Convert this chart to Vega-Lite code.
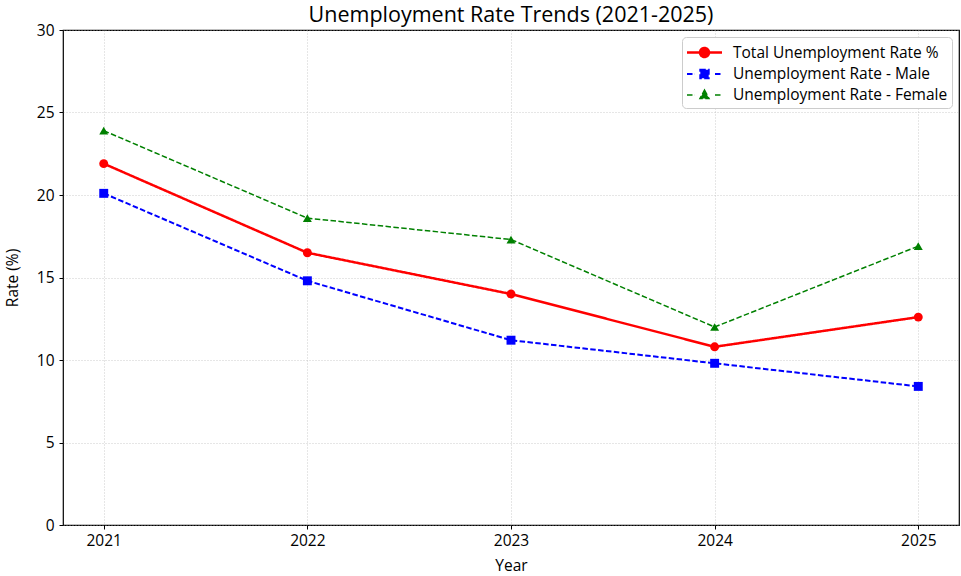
{
  "$schema": "https://vega.github.io/schema/vega-lite/v6.json",
  "width": 896,
  "height": 495,
  "autosize": {"type": "none"},
  "padding": {"left": 63, "top": 30, "right": 2, "bottom": 51},
  "background": "white",
  "title": {"text": "Unemployment Rate Trends (2021-2025)", "fontSize": 21.5, "fontWeight": "normal", "font": "Open Sans", "color": "#000000", "offset": -3, "anchor": "middle"},
  "config": {
    "view": {"stroke": "#000000", "strokeWidth": 1.2},
    "font": "Open Sans",
    "axis": {"labelFont": "Open Sans", "titleFont": "Open Sans", "labelColor": "#000000", "titleColor": "#000000", "titleFontWeight": "normal", "domain": false, "tickColor": "#000000", "tickSize": 4, "labelFontSize": 15.5, "titleFontSize": 15.5, "grid": true, "gridColor": "#b0b0b0", "gridDash": [1, 2], "gridWidth": 0.8, "gridOpacity": 0.8}
  },
  "data": {"values": [
    {"year": 2021, "series": "Total Unemployment Rate %", "rate": 21.9},
    {"year": 2022, "series": "Total Unemployment Rate %", "rate": 16.5},
    {"year": 2023, "series": "Total Unemployment Rate %", "rate": 14.0},
    {"year": 2024, "series": "Total Unemployment Rate %", "rate": 10.8},
    {"year": 2025, "series": "Total Unemployment Rate %", "rate": 12.6},
    {"year": 2021, "series": "Unemployment Rate - Male", "rate": 20.1},
    {"year": 2022, "series": "Unemployment Rate - Male", "rate": 14.8},
    {"year": 2023, "series": "Unemployment Rate - Male", "rate": 11.2},
    {"year": 2024, "series": "Unemployment Rate - Male", "rate": 9.8},
    {"year": 2025, "series": "Unemployment Rate - Male", "rate": 8.4},
    {"year": 2021, "series": "Unemployment Rate - Female", "rate": 23.9},
    {"year": 2022, "series": "Unemployment Rate - Female", "rate": 18.6},
    {"year": 2023, "series": "Unemployment Rate - Female", "rate": 17.3},
    {"year": 2024, "series": "Unemployment Rate - Female", "rate": 12.0},
    {"year": 2025, "series": "Unemployment Rate - Female", "rate": 16.9}
  ]},
  "encoding": {
    "x": {"field": "year", "type": "quantitative", "title": "Year",
      "scale": {"domain": [2020.8, 2025.2], "nice": false, "zero": false},
      "axis": {"values": [2021, 2022, 2023, 2024, 2025], "format": "d", "labelPadding": 4, "titlePadding": 10}},
    "y": {"field": "rate", "type": "quantitative", "title": "Rate (%)",
      "scale": {"domain": [0, 30], "nice": false},
      "axis": {"values": [0, 5, 10, 15, 20, 25, 30], "labelPadding": 5, "titlePadding": 16}}
  },
  "layer": [
    {
      "mark": {"type": "line"},
      "encoding": {
        "color": {"field": "series", "type": "nominal", "title": null,
          "scale": {"domain": ["Total Unemployment Rate %", "Unemployment Rate - Male", "Unemployment Rate - Female"], "range": ["#ff0000", "#0000ff", "#008000"]},
          "legend": {
            "orient": "top-right", "offset": 7, "padding": 4, "rowPadding": 1,
            "strokeColor": "#cccccc", "fillColor": "white", "cornerRadius": 4,
            "labelFont": "Open Sans", "labelFontSize": 15.5, "labelColor": "#000000", "labelOffset": 17, "labelLimit": 400,
            "symbolSize": 400, "symbolStrokeWidth": 2, "symbolOffset": 7,
            "encoding": {"symbols": {
              "shape": {"condition": [
                {"test": "datum.value === 'Total Unemployment Rate %'", "value": "M-1.75,0H1.75M-0.45,0A0.45,0.45 0 1,0 0.45,0A0.45,0.45 0 1,0 -0.45,0Z"},
                {"test": "datum.value === 'Unemployment Rate - Male'", "value": "M-1.75,0H-0.95M1.05,0H1.75M-0.42,-0.42H0.42V0.42H-0.42Z"}],
                "value": "M-1.75,0H-0.95M1.05,0H1.75M0,-0.5L0.45,0.35H-0.45Z"},
              "fill": {"condition": [
                {"test": "datum.value === 'Total Unemployment Rate %'", "value": "#ff0000"},
                {"test": "datum.value === 'Unemployment Rate - Male'", "value": "#0000ff"}], "value": "#008000"},
              "stroke": {"condition": [
                {"test": "datum.value === 'Total Unemployment Rate %'", "value": "#ff0000"},
                {"test": "datum.value === 'Unemployment Rate - Male'", "value": "#0000ff"}], "value": "#008000"},
              "strokeDash": {"value": [100, 0]},
              "strokeWidth": {"condition": {"test": "datum.value === 'Total Unemployment Rate %'", "value": 2.5}, "value": 1.5},
              "opacity": {"value": 1}
            }}
          }},
        "strokeDash": {"field": "series", "type": "nominal", "legend": null,
          "scale": {"domain": ["Total Unemployment Rate %", "Unemployment Rate - Male", "Unemployment Rate - Female"], "range": [[1, 0], [5.5, 2.4], [5.5, 2.4]]}},
        "strokeWidth": {"field": "series", "type": "nominal", "legend": null,
          "scale": {"domain": ["Total Unemployment Rate %", "Unemployment Rate - Male", "Unemployment Rate - Female"], "range": [2.5, 1.5, 1.5]}}
      }
    },
    {
      "transform": [{"filter": "datum.series === 'Total Unemployment Rate %'"}],
      "mark": {"type": "point", "shape": "circle", "filled": true, "opacity": 1, "size": 80, "color": "#ff0000"},
      "encoding": {}
    },
    {
      "transform": [{"filter": "datum.series === 'Unemployment Rate - Male'"}],
      "mark": {"type": "point", "shape": "square", "filled": true, "opacity": 1, "size": 80, "color": "#0000ff"},
      "encoding": {}
    },
    {
      "transform": [{"filter": "datum.series === 'Unemployment Rate - Female'"}],
      "mark": {"type": "point", "shape": "triangle-up", "filled": true, "opacity": 1, "size": 80, "color": "#008000"},
      "encoding": {}
    }
  ]
}
